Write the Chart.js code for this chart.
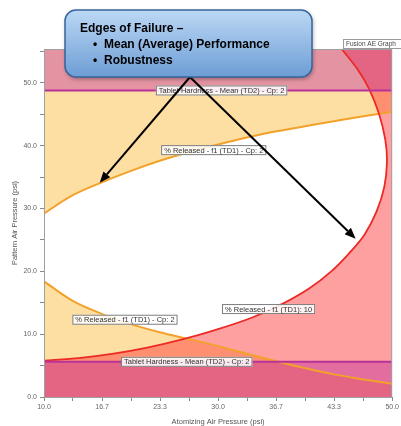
<!DOCTYPE html>
<html lang="en">
<head>
<meta charset="UTF-8">
<title>Edges of Failure</title>
<style>
    body { margin: 0; background: #fff; }
    .wrap { width: 401px; height: 426px; position: relative; }
</style>
<script src="https://cdn.jsdelivr.net/npm/chart.js"></script>
</head>
<body>
<div class="wrap"><canvas id="efChart"></canvas></div>
<script>
    // axes: Atomizing Air Pressure (x) vs Pattern Air Pressure (y), both psi
    const xMin = 10, xMax = 50, yMin = 0, yMax = 55.4;
    const xTicks = [10, 13.33, 16.67, 20, 23.33, 26.67, 30, 33.33, 36.67, 40, 43.33, 46.67, 50];
    const xTickLabels = ['10.0', '', '16.7', '', '23.3', '', '30.0', '', '36.7', '', '43.3', '', '50.0'];
    const yTicks = [0, 5, 10, 15, 20, 25, 30, 35, 40, 45, 50, 55];
    const yTickLabels = ['0.0', '', '10.0', '', '20.0', '', '30.0', '', '40.0', '', '50.0', ''];

    // Tablet Hardness - Mean (TD2) - Cp: 2 limits
    const hardnessUpper = 48.8;
    const hardnessLower = 5.6;

    // % Released - f1 (TD1) - Cp: 2, upper edge
    const relUpX = [10, 13, 16.7, 20, 23.3, 26.7, 30, 33.3, 36.7, 40, 43.3, 46.7, 50];
    const relUpY = [29.2, 31.9, 34.2, 36.0, 37.6, 39.0, 40.2, 41.3, 42.3, 43.1, 43.9, 44.7, 45.4];

    // % Released - f1 (TD1) - Cp: 2, lower edge
    const relLowX = [10, 13.3, 16.7, 20, 23.3, 26.7, 30, 33.3, 36.7, 40, 43.3, 46.7, 50];
    const relLowY = [18.4, 15.3, 13.2, 11.6, 10.3, 9.2, 8.1, 6.9, 5.7, 4.6, 3.6, 2.8, 2.1];

    // % Released - f1 (TD1): 10 edge
    const rel10X = [10, 14, 18, 22, 26, 30, 34, 37.5, 40.5, 43, 45, 46.8, 48.2, 49.1, 49.4, 49.2, 48.5, 47.4, 46, 44.2];
    const rel10Y = [5.8, 6.2, 6.9, 7.9, 9.2, 10.8, 12.7, 14.9, 17.3, 20.0, 22.8, 25.8, 29.5, 33.5, 37.5, 41.0, 45.0, 48.9, 52.2, 55.4];

    // boxed notes on the plot (data coordinates)
    const noteTexts = ['Tablet Hardness - Mean (TD2) - Cp: 2', '% Released - f1 (TD1) - Cp: 2',
                       '% Released - f1 (TD1) - Cp: 2', '% Released - f1 (TD1): 10',
                       'Tablet Hardness - Mean (TD2) - Cp: 2'];
    const noteX = [30.4, 29.5, 19.3, 35.8, 26.4];
    const noteY = [48.8, 39.3, 12.3, 14.0, 5.6];

    // where the callout arrows point
    const arrowX = [16.4, 45.8];
    const arrowY = [34.1, 25.2];

    const pts = (xs, ys) => xs.map((x, i) => ({x: x, y: ys[i]}));
    const flat = v => [{x: xMin, y: v}, {x: xMax, y: v}];
    const redRegion = [{x: xMin, y: yMin}].concat(pts(rel10X, rel10Y), [{x: xMax, y: yMax}, {x: xMax, y: yMin}]);

    const FONT = '"Liberation Sans", Arial, sans-serif';
    const purple = '#b8329a';
    const orange = '#f2a22a';
    const red = '#ec2a26';
    const peach = 'rgba(250, 185, 50, 0.45)';
    const redFill = 'rgba(255, 57, 57, 0.48)';
    const bandFill = 'rgba(190, 40, 160, 0.42)';

    function roundRect(ctx, x, y, w, h, r) {
        ctx.beginPath();
        ctx.moveTo(x + r, y);
        ctx.arcTo(x + w, y, x + w, y + h, r);
        ctx.arcTo(x + w, y + h, x, y + h, r);
        ctx.arcTo(x, y + h, x, y, r);
        ctx.arcTo(x, y, x + w, y, r);
        ctx.closePath();
    }

    function arrow(ctx, x0, y0, x1, y1) {
        const a = Math.atan2(y1 - y0, x1 - x0), L = 11, W = 4.5;
        const bx = x1 - L * Math.cos(a), by = y1 - L * Math.sin(a);
        ctx.beginPath();
        ctx.moveTo(x0, y0);
        ctx.lineTo(bx, by);
        ctx.stroke();
        ctx.beginPath();
        ctx.moveTo(x1, y1);
        ctx.lineTo(bx + W * Math.sin(a), by - W * Math.cos(a));
        ctx.lineTo(bx - W * Math.sin(a), by + W * Math.cos(a));
        ctx.closePath();
        ctx.fill();
    }

    const notesPlugin = {
        id: 'notes',
        afterDatasetsDraw(chart) {
            const ctx = chart.ctx, xs = chart.scales.x, ys = chart.scales.y, a = chart.chartArea;
            ctx.save();
            // thin frame
            ctx.strokeStyle = '#a0a0a0';
            ctx.lineWidth = 1;
            ctx.strokeRect(a.left + 0.5, a.top + 0.5, a.right - a.left - 1, a.bottom - a.top);
            ctx.font = '7.5px ' + FONT;
            ctx.textAlign = 'center';
            ctx.textBaseline = 'middle';
            noteTexts.forEach((t, i) => {
                const px = xs.getPixelForValue(noteX[i]), py = ys.getPixelForValue(noteY[i]);
                const w = ctx.measureText(t).width + 6, h = 10;
                ctx.fillStyle = 'rgba(255,255,255,0.88)';
                ctx.fillRect(px - w / 2, py - h / 2, w, h);
                ctx.strokeStyle = '#7d7d7d';
                ctx.strokeRect(px - w / 2 + 0.5, py - h / 2 + 0.5, w - 1, h - 1);
                ctx.fillStyle = '#333';
                ctx.fillText(t, px, py + 0.5);
            });
            // graph tag at top right
            ctx.fillStyle = '#fff';
            ctx.fillRect(343, 39, 60, 10);
            ctx.strokeStyle = '#9a9a9a';
            ctx.strokeRect(343.5, 39.5, 60, 9);
            ctx.fillStyle = '#444';
            ctx.textAlign = 'left';
            ctx.font = '6.5px ' + FONT;
            ctx.fillText('Fusion AE Graph', 346, 44.5);
            ctx.restore();
        },
        afterDraw(chart) {
            const ctx = chart.ctx, xs = chart.scales.x, ys = chart.scales.y;
            ctx.save();
            // arrows from the callout
            ctx.strokeStyle = '#000';
            ctx.fillStyle = '#000';
            ctx.lineWidth = 2;
            arrowX.forEach((v, i) => {
                arrow(ctx, 190, 77, xs.getPixelForValue(v), ys.getPixelForValue(arrowY[i]));
            });
            // callout box
            ctx.shadowColor = 'rgba(0,0,0,0.35)';
            ctx.shadowBlur = 4;
            ctx.shadowOffsetX = 1;
            ctx.shadowOffsetY = 2;
            const g = ctx.createLinearGradient(0, 10, 0, 77);
            g.addColorStop(0, '#bcd8f5');
            g.addColorStop(1, '#6d9dd5');
            roundRect(ctx, 65, 10, 247, 67, 11);
            ctx.fillStyle = g;
            ctx.fill();
            ctx.shadowColor = 'transparent';
            ctx.strokeStyle = '#36659b';
            ctx.lineWidth = 1.5;
            ctx.stroke();
            ctx.fillStyle = '#000';
            ctx.font = 'bold 12px ' + FONT;
            ctx.textBaseline = 'alphabetic';
            ctx.fillText('Edges of Failure \u2013', 80, 32);
            ctx.fillText('\u2022', 93, 48);
            ctx.fillText('Mean (Average) Performance', 104, 48);
            ctx.fillText('\u2022', 93, 64);
            ctx.fillText('Robustness', 104, 64);
            ctx.restore();
        }
    };

    const ctx = document.getElementById('efChart').getContext('2d');
    new Chart(ctx, {
        type: 'line',
        data: {
            datasets: [
                { data: flat(hardnessUpper), fill: 'end', backgroundColor: bandFill, borderColor: purple, borderWidth: 2 },
                { data: flat(hardnessLower), fill: 'start', backgroundColor: bandFill, borderColor: purple, borderWidth: 2 },
                { data: redRegion, fill: 'shape', backgroundColor: redFill, borderColor: 'transparent', borderWidth: 0, tension: 0 },
                { data: pts(rel10X, rel10Y), fill: false, borderColor: red, borderWidth: 1.8, tension: 0.3 },
                { data: pts(relUpX, relUpY), fill: 'end', backgroundColor: peach, borderColor: orange, borderWidth: 2, cubicInterpolationMode: 'monotone' },
                { data: pts(relLowX, relLowY), fill: 'start', backgroundColor: peach, borderColor: orange, borderWidth: 2, cubicInterpolationMode: 'monotone' }
            ]
        },
        options: {
            responsive: true,
            maintainAspectRatio: false,
            animation: false,
            layout: { padding: { top: 49, right: 8, left: 0, bottom: 0 } },
            elements: { point: { radius: 0, hoverRadius: 0 } },
            plugins: {
                legend: { display: false },
                tooltip: { enabled: false },
                filler: { drawTime: 'beforeDatasetsDraw' }
            },
            scales: {
                x: {
                    type: 'linear',
                    min: xMin,
                    max: xMax,
                    afterFit: s => { s.height = 29; },
                    afterBuildTicks: s => { s.ticks = xTicks.map(v => ({value: v})); },
                    ticks: {
                        autoSkip: false,
                        maxRotation: 0,
                        padding: 2,
                        color: '#666',
                        font: { family: FONT, size: 7 },
                        callback: (v, i) => xTickLabels[i]
                    },
                    grid: { drawOnChartArea: false, tickLength: 4, color: '#888' },
                    border: { color: '#888' },
                    title: {
                        display: true,
                        text: 'Atomizing Air Pressure (psi)',
                        color: '#555',
                        font: { family: FONT, size: 7.5 },
                        padding: { top: 0, bottom: 0 }
                    }
                },
                y: {
                    type: 'linear',
                    min: yMin,
                    max: yMax,
                    afterFit: s => { s.width = 44; },
                    afterBuildTicks: s => { s.ticks = yTicks.map(v => ({value: v})); },
                    ticks: {
                        autoSkip: false,
                        padding: 3,
                        color: '#666',
                        font: { family: FONT, size: 7 },
                        callback: (v, i) => yTickLabels[i]
                    },
                    grid: { drawOnChartArea: false, tickLength: 4, color: '#888' },
                    border: { color: '#888' },
                    title: {
                        display: true,
                        text: 'Pattern Air Pressure (psi)',
                        color: '#555',
                        font: { family: FONT, size: 7.5 },
                        padding: { top: 10, bottom: 0 }
                    }
                }
            }
        },
        plugins: [notesPlugin]
    });
</script>
</body>
</html>
